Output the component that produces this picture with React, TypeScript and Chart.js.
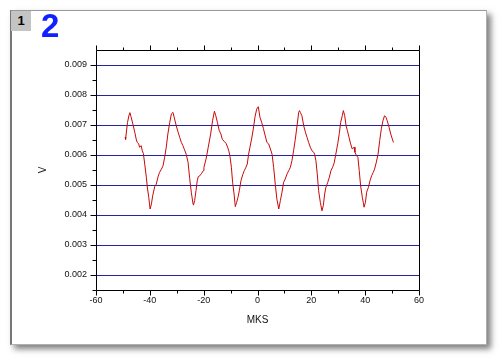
import React, { useEffect, useRef } from 'react';
import { Chart, registerables } from 'chart.js';

Chart.register(...registerables);

// ---- data ----
const X_VALUES = [
  -49.2, -49.0, -48.8, -48.3, -47.8, -47.4, -47.0, -46.3, -45.6, -45.0,
  -44.65, -44.15, -43.8, -43.2, -42.8, -42.4, -41.9, -41.3, -40.9, -40.4,
  -39.9, -39.4, -38.95, -38.2, -37.6, -37.0, -36.4, -35.7, -35.1, -34.5,
  -33.9, -33.3, -32.6, -32.0, -31.4, -30.8, -30.2, -29.5, -28.9, -28.3,
  -27.7, -27.1, -26.5, -25.8, -25.2, -24.6, -24.0, -23.8, -23.35, -22.85,
  -22.4, -22.0, -21.4, -20.75, -20.1, -19.9, -19.1, -18.3, -17.4, -16.7,
  -16.0, -15.5, -14.9, -14.2, -13.6, -13.1, -12.45, -11.7, -11.1, -10.6,
  -10.2, -9.7, -9.25, -8.7, -8.25, -7.75, -7.25, -6.75, -6.15, -5.5,
  -4.9, -4.3, -3.8, -3.3, -2.8, -2.2, -1.55, -0.95, -0.3, 0.3,
  0.9, 1.55, 2.2, 2.7, 3.5, 4.15, 4.8, 5.4, 6.0, 6.6,
  7.2, 7.9, 8.5, 9.1, 9.7, 10.3, 11.0, 11.6, 12.2, 12.8,
  13.4, 14.05, 14.7, 15.3, 15.6, 15.9, 16.5, 17.15, 17.8, 18.4,
  19.0, 19.6, 20.25, 20.9, 21.2, 21.7, 22.2, 22.7, 23.35, 23.95,
  24.45, 24.95, 25.4, 26.1, 26.7, 27.3, 27.9, 28.5, 29.1, 29.8,
  30.4, 30.9, 31.5, 31.9, 32.4, 32.9, 33.4, 34.0, 34.6, 35.2,
  35.9, 36.2, 36.8, 37.3, 37.8, 38.3, 38.95, 39.6, 40.1, 40.55,
  41.2, 41.8, 42.4, 43.0, 43.5, 44.15, 44.8, 45.4, 46.0, 46.6,
  47.2, 47.7, 48.2, 48.9, 49.5, 50.1, 50.5,
];

const Y_VALUES = [
  0.00660, 0.00652, 0.00670, 0.00708, 0.00730, 0.00741, 0.00728, 0.00703, 0.00676, 0.00650,
  0.00642, 0.00637, 0.00626, 0.00631, 0.00614, 0.00605, 0.00570, 0.00526, 0.00490, 0.00459,
  0.00420, 0.00437, 0.00464, 0.00494, 0.00503, 0.00526, 0.00542, 0.00553, 0.00564, 0.00592,
  0.00626, 0.00670, 0.00709, 0.00737, 0.00742, 0.00720, 0.00698, 0.00676, 0.00659, 0.00642,
  0.00631, 0.00617, 0.00603, 0.00576, 0.00522, 0.00476, 0.00440, 0.00433, 0.00448, 0.00481,
  0.00514, 0.00528, 0.00531, 0.00539, 0.00548, 0.00559, 0.00587, 0.00626, 0.00670, 0.00714,
  0.00746, 0.00731, 0.00709, 0.00681, 0.00670, 0.00653, 0.00646, 0.00639, 0.00626, 0.00612,
  0.00594, 0.00559, 0.00509, 0.00470, 0.00428, 0.00442, 0.00459, 0.00481, 0.00514, 0.00534,
  0.00548, 0.00559, 0.00570, 0.00603, 0.00626, 0.00653, 0.00687, 0.00726, 0.00753, 0.00761,
  0.00726, 0.00709, 0.00688, 0.00670, 0.00642, 0.00637, 0.00620, 0.00603, 0.00559, 0.00503,
  0.00453, 0.00420, 0.00448, 0.00476, 0.00509, 0.00520, 0.00537, 0.00548, 0.00559, 0.00581,
  0.00614, 0.00653, 0.00698, 0.00742, 0.00748, 0.00742, 0.00731, 0.00698, 0.00676, 0.00659,
  0.00642, 0.00626, 0.00614, 0.00609, 0.00603, 0.00581, 0.00537, 0.00481, 0.00442, 0.00414,
  0.00431, 0.00470, 0.00492, 0.00509, 0.00526, 0.00548, 0.00559, 0.00574, 0.00603, 0.00637,
  0.00672, 0.00709, 0.00731, 0.00748, 0.00731, 0.00698, 0.00681, 0.00659, 0.00637, 0.00620,
  0.00626, 0.00609, 0.00598, 0.00592, 0.00548, 0.00498, 0.00459, 0.00426, 0.00442, 0.00476,
  0.00492, 0.00514, 0.00531, 0.00542, 0.00553, 0.00576, 0.00603, 0.00648, 0.00687, 0.00714,
  0.00731, 0.00726, 0.00714, 0.00692, 0.00670, 0.00653, 0.00642,
];

const X_MAJOR_TICKS = [-60, -40, -20, 0, 20, 40, 60];
const X_MINOR_TICKS = [-50, -30, -10, 10, 30, 50];
const Y_MAJOR_TICKS = [0.002, 0.003, 0.004, 0.005, 0.006, 0.007, 0.008, 0.009];
const Y_MINOR_TICKS = [0.0015, 0.0025, 0.0035, 0.0045, 0.0055, 0.0065, 0.0075, 0.0085];
const X_RANGE = [-60, 60];
const Y_RANGE = [0.0015, 0.0095];
const X_TITLE = 'MKS';
const Y_TITLE = 'V';
const PANEL_NUMBER = '1';
const PANEL_TITLE = '2';

const FONT = '"Liberation Sans", Arial, sans-serif';

const framePlugin = {
  id: 'frameTicks',
  afterDraw(chart: any) {
    const { ctx, chartArea: a, scales } = chart;
    const xs = scales.x;
    const ys = scales.y;
    const L = Math.round(a.left) + 0.5;
    const R = Math.round(a.right) + 0.5;
    const T = Math.round(a.top) + 0.5;
    const B = Math.round(a.bottom) + 0.5;
    ctx.save();
    ctx.strokeStyle = '#000';
    ctx.lineWidth = 1;
    ctx.beginPath();
    ctx.rect(L, T, R - L, B - T);
    const xTick = (v: number, len: number) => {
      const p = Math.round(xs.getPixelForValue(v)) + 0.5;
      ctx.moveTo(p, B);
      ctx.lineTo(p, B + len);
      ctx.moveTo(p, T);
      ctx.lineTo(p, T - len);
    };
    const yTick = (v: number, len: number) => {
      const p = Math.round(ys.getPixelForValue(v)) + 0.5;
      ctx.moveTo(L, p);
      ctx.lineTo(L - len, p);
    };
    X_MAJOR_TICKS.forEach((v) => xTick(v, 5));
    X_MINOR_TICKS.forEach((v) => xTick(v, 3));
    Y_MAJOR_TICKS.forEach((v) => yTick(v, 6));
    Y_MINOR_TICKS.forEach((v) => yTick(v, 4));
    ctx.stroke();
    ctx.restore();
  },
};

export default function App() {
  const ref = useRef<HTMLCanvasElement | null>(null);

  useEffect(() => {
    if (!ref.current) return;
    const points = X_VALUES.map((x, i) => ({ x, y: Y_VALUES[i] }));
    const chart = new Chart(ref.current, {
      type: 'scatter',
      data: {
        datasets: [
          {
            data: points,
            showLine: true,
            borderColor: '#c80808',
            backgroundColor: '#c80808',
            borderWidth: 1,
            pointRadius: 0,
            tension: 0,
          },
        ],
      },
      options: {
        animation: false,
        responsive: false,
        devicePixelRatio: 1,
        layout: { padding: { left: 0, right: 83, top: 50, bottom: 0 } },
        plugins: { legend: { display: false }, tooltip: { enabled: false } },
        scales: {
          x: {
            type: 'linear',
            min: X_RANGE[0],
            max: X_RANGE[1],
            afterBuildTicks: (s: any) => {
              s.ticks = X_MAJOR_TICKS.map((v) => ({ value: v }));
            },
            afterFit: (s: any) => {
              s.height = 70;
            },
            grid: { display: false, drawTicks: false },
            border: { display: false },
            ticks: {
              autoSkip: false,
              maxRotation: 0,
              padding: 5,
              color: '#111',
              font: { family: FONT, size: 9 },
              callback: (v: any) => String(v),
            },
            title: {
              display: true,
              text: X_TITLE,
              color: '#111',
              font: { family: FONT, size: 10 },
              padding: { top: 0, bottom: 34 },
            },
          },
          y: {
            type: 'linear',
            min: Y_RANGE[0],
            max: Y_RANGE[1],
            afterBuildTicks: (s: any) => {
              s.ticks = Y_MAJOR_TICKS.map((v) => ({ value: v }));
            },
            afterFit: (s: any) => {
              s.width = 96;
            },
            grid: { color: '#2424a0', lineWidth: 1, drawTicks: false },
            border: { display: false },
            ticks: {
              autoSkip: false,
              padding: 9,
              color: '#111',
              font: { family: FONT, size: 9 },
              callback: (v: any) => Number(v).toFixed(3),
            },
            title: {
              display: true,
              text: Y_TITLE,
              color: '#111',
              font: { family: FONT, size: 10 },
              padding: { top: 37, bottom: 0 },
            },
          },
        },
      },
      plugins: [framePlugin],
    } as any);
    return () => chart.destroy();
  }, []);

  return (
    <div
      style={{
        position: 'fixed',
        left: 0,
        top: 0,
        width: 502,
        height: 360,
        background: '#fff',
        overflow: 'hidden',
      }}
    >
      <div
        style={{
          position: 'absolute',
          left: 10,
          top: 10,
          width: 477,
          height: 335,
          boxSizing: 'border-box',
          background: '#fff',
          borderTop: '1px solid #9a9a9a',
          borderLeft: '2px solid #777',
          borderRight: '1px solid #b0b0b0',
          borderBottom: '1px solid #b0b0b0',
          boxShadow: '4px 4px 6px rgba(0,0,0,0.5)',
        }}
      />
      <canvas
        ref={ref}
        width={502}
        height={360}
        style={{ position: 'absolute', left: 0, top: 0, width: 502, height: 360 }}
      />
      <div
        style={{
          position: 'absolute',
          left: 11,
          top: 11,
          width: 20,
          height: 20,
          background: '#c4c4c4',
          color: '#000',
          fontFamily: FONT,
          fontWeight: 'bold',
          fontSize: 13,
          lineHeight: '20px',
          textAlign: 'center',
        }}
      >
        {PANEL_NUMBER}
      </div>
      <div
        style={{
          position: 'absolute',
          left: 41,
          top: 9,
          color: '#1020ff',
          fontFamily: FONT,
          fontWeight: 'bold',
          fontSize: 33,
          lineHeight: '33px',
        }}
      >
        {PANEL_TITLE}
      </div>
    </div>
  );
}
